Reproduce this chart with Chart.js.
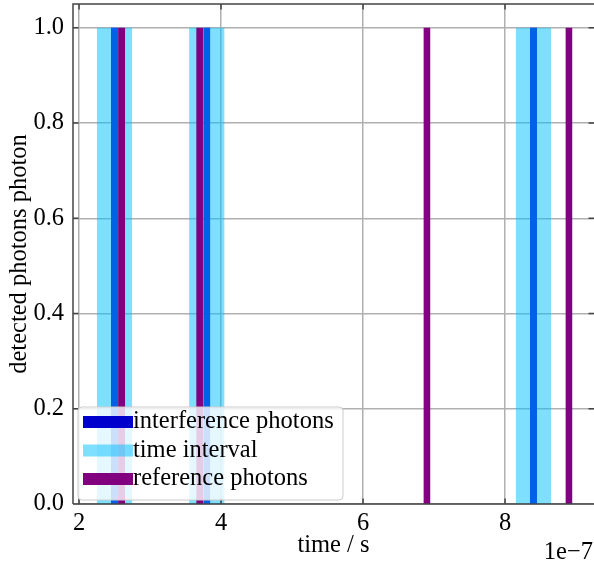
<!DOCTYPE html>
<html lang="en">
<head>
  <meta charset="UTF-8">
  <title>Detected photons</title>
  <script src="https://cdn.jsdelivr.net/npm/chart.js@4.4.1/dist/chart.umd.min.js"></script>
  <style>
    body { margin: 0; background: #fff; }
    #wrap { width: 594px; height: 565px; }
  </style>
</head>
<body>
  <div id="wrap"><canvas id="photonChart" width="594" height="565"></canvas></div>
  <script>
    // times in units of 1e-7 s
    const interferencePhotons = [2.5, 3.8, 8.4];
    const timeIntervals = [2.5, 3.8, 8.4];
    const referencePhotons = [2.6, 3.7, 6.9, 8.9];
    const photonWidth = 0.1;
    const intervalWidth = 0.5;
    const barHeight = 1;

    const xTicks = [2, 4, 6, 8];
    const yTicks = [0, 0.2, 0.4, 0.6, 0.8, 1.0];
    const seriesNames = ['interference photons', 'time interval', 'reference photons'];

    const FONT = '"Liberation Serif", "Times New Roman", serif';
    const FONT_SIZE = 24.5;
    const colors = {
      interference: '#0000cd',
      interval: 'rgba(0, 191, 255, 0.5)',
      reference: '#800080'
    };

    // one filled rectangle per bar, drawn through the line/filler machinery
    function rectDatasets(centers, width, color, order) {
      return centers.map(c => ({
        data: [
          { x: c - width / 2, y: 0 },
          { x: c - width / 2, y: barHeight },
          { x: c + width / 2, y: barHeight },
          { x: c + width / 2, y: 0 }
        ],
        backgroundColor: color,
        borderColor: 'rgba(0,0,0,0)',
        borderWidth: 0,
        pointRadius: 0,
        tension: 0,
        fill: 'origin',
        order: order
      }));
    }

    const datasets = [
      ...rectDatasets(interferencePhotons, photonWidth, colors.interference, 3),
      ...rectDatasets(timeIntervals, intervalWidth, colors.interval, 2),
      ...rectDatasets(referencePhotons, photonWidth, colors.reference, 1)
    ];

    // keep the plot box where it is, ignore label overflow padding
    function noOverflow(s) {
      s.paddingTop = 0; s.paddingBottom = 0;
      s.paddingLeft = 0; s.paddingRight = 0;
    }

    const framePlugin = {
      id: 'frame',
      afterDatasetsDraw(chart) {
        const { ctx, chartArea: a, scales: { x, y } } = chart;
        ctx.save();
        ctx.strokeStyle = '#444';
        ctx.lineWidth = 1.5;
        ctx.beginPath();
        ctx.moveTo(a.left, a.bottom);
        ctx.lineTo(a.left, a.top);
        ctx.lineTo(a.right, a.top);
        ctx.moveTo(a.left, a.bottom);
        ctx.lineTo(a.right, a.bottom);
        // inward ticks on all four sides
        const len = 5.5;
        xTicks.forEach(v => {
          const px = x.getPixelForValue(v);
          ctx.moveTo(px, a.bottom); ctx.lineTo(px, a.bottom - len);
          ctx.moveTo(px, a.top); ctx.lineTo(px, a.top + len);
        });
        yTicks.forEach(v => {
          const py = y.getPixelForValue(v);
          ctx.moveTo(a.left, py); ctx.lineTo(a.left + len, py);
          ctx.moveTo(a.right, py); ctx.lineTo(a.right - len, py);
        });
        ctx.stroke();

        // legend, lower left inside the axes
        const bx = a.left + 5, by = a.bottom - 97, bw = 265, bh = 93, r = 4;
        ctx.beginPath();
        ctx.roundRect(bx, by, bw, bh, r);
        ctx.fillStyle = 'rgba(255,255,255,0.8)';
        ctx.fill();
        ctx.strokeStyle = '#cccccc';
        ctx.lineWidth = 1;
        ctx.stroke();
        const legendColors = [colors.interference, colors.interval, colors.reference];
        ctx.font = FONT_SIZE + 'px ' + FONT;
        ctx.textBaseline = 'middle';
        ctx.textAlign = 'left';
        seriesNames.forEach((name, i) => {
          const cy = by + 15 + i * 28.5;
          ctx.fillStyle = legendColors[i];
          ctx.fillRect(bx + 5, cy - 6, 50, 12);
          ctx.fillStyle = '#000';
          ctx.fillText(name, bx + 55, cy);
        });

        // offset text of the x axis
        ctx.textAlign = 'right';
        ctx.textBaseline = 'alphabetic';
        ctx.fillText('1e\u22127', a.right - 1, 559);
        ctx.restore();
      }
    };

    new Chart(document.getElementById('photonChart'), {
      type: 'line',
      data: { datasets: datasets },
      options: {
        responsive: false,
        animation: false,
        layout: { padding: { top: 4, right: 0, left: 0, bottom: 0 } },
        plugins: {
          legend: { display: false },
          tooltip: { enabled: false }
        },
        scales: {
          x: {
            type: 'linear',
            min: 1.915,
            max: 9.253,
            afterFit: s => { s.height = 61; noOverflow(s); },
            afterBuildTicks: s => { s.ticks = xTicks.map(v => ({ value: v })); },
            grid: { color: '#b0b0b0', lineWidth: 1.5, drawTicks: false },
            border: { display: false },
            ticks: {
              padding: 5,
              color: '#000',
              font: { family: FONT, size: FONT_SIZE },
              callback: v => String(v)
            },
            title: {
              display: true,
              text: 'time / s',
              color: '#000',
              font: { family: FONT, size: FONT_SIZE },
              padding: { top: 0, bottom: 5 }
            }
          },
          y: {
            type: 'linear',
            min: 0,
            max: 1.05,
            afterFit: s => { s.width = 73; noOverflow(s); },
            afterBuildTicks: s => { s.ticks = yTicks.map(v => ({ value: v })); },
            grid: { color: '#b0b0b0', lineWidth: 1.5, drawTicks: false },
            border: { display: false },
            ticks: {
              padding: 9,
              color: '#000',
              font: { family: FONT, size: FONT_SIZE },
              callback: v => v.toFixed(1)
            },
            title: {
              display: true,
              text: 'detected photons photon',
              color: '#000',
              font: { family: FONT, size: FONT_SIZE },
              padding: { top: 5, bottom: 0 }
            }
          }
        }
      },
      plugins: [framePlugin]
    });
  </script>
</body>
</html>
